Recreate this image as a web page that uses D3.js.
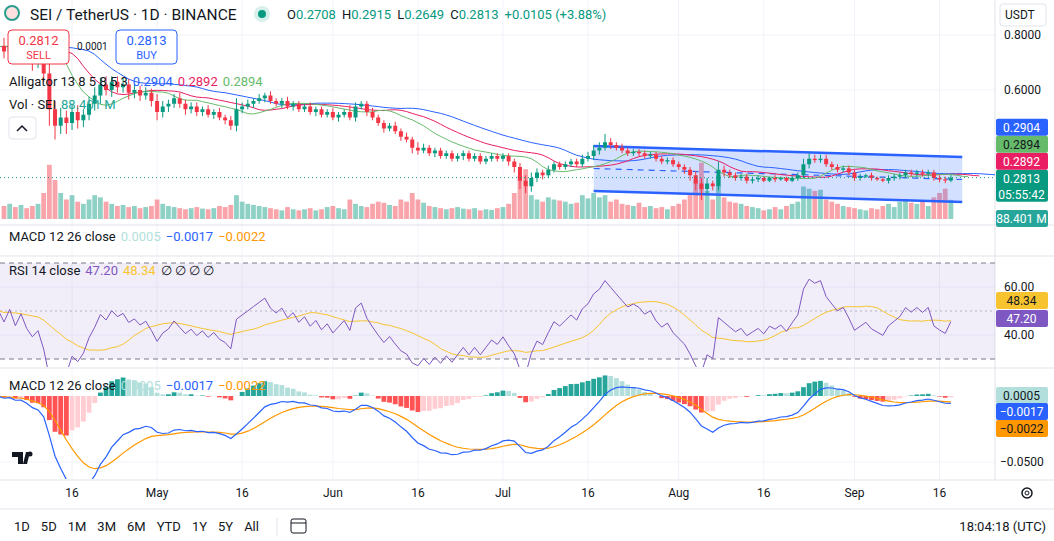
<!DOCTYPE html>
<html>
<head>
<meta charset="utf-8">
<script src="https://cdn.jsdelivr.net/npm/d3@7"></script>
<style>
body{margin:0;background:#fff;font-family:Roboto,"Liberation Sans",sans-serif;}
svg text{font-family:Roboto,"Liberation Sans",sans-serif;}
</style>
</head>
<body>
<svg id="chart" width="1054" height="541"></svg>
<script>
// closes before the visible range, only used to warm up the indicators
const warmCloses = [0.76,0.78,0.75,0.77,0.79,0.76,0.74,0.77,0.78,0.75,0.73,0.76,0.78,0.77,0.75,0.74,0.76,0.78,0.77,0.75,
  0.74,0.76,0.77,0.75,0.74,0.76,0.78,0.76,0.75,0.77,0.76,0.74,0.75,0.77,0.76,0.75,0.76,0.77,0.75,0.76];
const firstDay = new Date(2024, 3, 4);
const firstOpen = 0.76;
const closes = [
  // Apr 4-30
  0.74,0.76,0.73,0.75,0.72,0.70,0.71,0.66,0.53,0.47,0.50,0.48,0.52,0.49,0.51,0.55,0.58,0.62,0.60,0.63,0.61,0.62,0.59,0.60,0.58,0.59,0.56,
  // May
  0.52,0.54,0.55,0.57,0.55,0.53,0.54,0.52,0.53,0.51,0.52,0.50,0.49,0.47,0.53,0.54,0.55,0.56,0.57,0.58,0.56,0.55,0.56,0.54,0.55,0.53,0.54,0.52,0.53,0.51,0.52,
  // Jun
  0.50,0.51,0.52,0.50,0.54,0.55,0.52,0.50,0.48,0.46,0.47,0.45,0.43,0.42,0.39,0.38,0.39,0.37,0.38,0.36,0.37,0.35,0.36,0.37,0.35,0.36,0.34,0.35,0.36,0.35,
  // Jul
  0.36,0.34,0.32,0.27,0.25,0.28,0.30,0.29,0.31,0.33,0.32,0.33,0.34,0.33,0.35,0.36,0.38,0.39,0.41,0.40,0.39,0.38,0.37,0.375,0.37,0.36,0.365,0.35,0.34,0.345,0.33,
  // Aug
  0.32,0.31,0.29,0.26,0.24,0.26,0.25,0.31,0.30,0.29,0.28,0.285,0.27,0.275,0.28,0.27,0.28,0.275,0.28,0.27,0.28,0.29,0.33,0.35,0.345,0.35,0.33,0.32,0.31,0.315,0.30,
  // Sep 1-18
  0.28,0.285,0.29,0.28,0.275,0.27,0.28,0.285,0.29,0.30,0.295,0.30,0.295,0.30,0.28,0.275,0.2708,0.2813
];
// wick lengths above / below the body, in thousandths
const hiExt = [
  30,25,30,20,25,20,25,20,40,30,35,25,30,25,20,25,30,25,30,20,20,25,20,20,15,20,15,
  25,20,15,15,20,15,15,15,10,15,10,15,10,15,40,15,15,10,15,10,15,10,10,15,10,10,10,15,10,10,10,
  15,10,10,25,15,10,10,15,10,10,10,15,10,15,10,20,15,10,10,10,10,10,10,10,10,10,10,10,10,10,
  10,10,10,15,20,20,15,10,15,10,10,10,10,10,15,15,20,20,30,15,10,15,10,10,10,10,10,10,10,10,10,
  10,10,10,15,20,20,10,30,15,10,10,10,10,10,10,5,5,10,5,5,10,10,20,20,15,15,15,10,10,10,10,
  10,10,5,10,5,5,10,10,10,10,10,10,10,10,10,10,10,10.2
];
const loExt = [
  25,30,20,30,25,30,20,30,60,50,30,40,25,30,25,20,25,30,20,25,20,20,25,20,20,15,20,
  30,20,20,15,15,20,15,15,15,10,15,10,15,15,20,15,10,15,10,15,10,10,15,10,15,10,10,10,15,10,10,
  10,15,10,10,15,10,15,10,10,15,10,10,15,10,20,15,10,10,15,10,10,10,10,15,10,10,10,10,10,10,
  10,15,20,30,25,20,15,15,10,10,10,10,10,10,10,10,15,15,10,15,10,10,10,10,10,10,10,10,10,10,10,
  10,15,20,25,40,20,15,15,15,10,10,10,10,10,10,5,5,10,5,5,5,10,10,15,10,10,10,10,10,10,10,
  10,10,5,10,5,5,10,10,10,10,10,10,10,10,10,10,10,5.9
];
// volume, millions
const volumes = [
  60,70,55,65,50,60,70,120,250,180,120,90,110,80,70,90,110,100,80,70,60,65,55,60,50,55,60,
  90,70,60,55,50,45,50,55,48,45,50,60,55,65,110,80,70,65,60,55,50,45,40,55,45,40,45,50,40,45,55,
  60,50,45,90,70,60,55,70,80,75,65,60,90,80,120,90,75,60,55,50,45,50,55,48,45,50,40,45,42,50,
  55,70,120,200,230,110,90,80,100,90,85,80,70,75,110,95,120,100,110,80,90,70,65,60,75,55,60,50,55,45,60,
  70,90,110,180,260,130,90,200,100,80,75,70,60,55,50,40,45,55,45,60,70,80,150,140,130,135,90,80,70,60,55,
  50,45,40,50,45,60,70,55,80,90,75,70,85,60,100,120,140,88.401
];
const priceTicks = [0.6, 0.8];
const rsiTicks = [40, 60];
const macdTicks = [-0.05];
const xTicks = [[3,16,'16'],[4,1,'May'],[4,16,'16'],[5,1,'Jun'],[5,16,'16'],[6,1,'Jul'],[6,16,'16'],[7,1,'Aug'],[7,16,'16'],[8,1,'Sep'],[8,16,'16']];
// channel drawing: [month, day, price]
const channelTop = [[6,17,0.396],[8,20,0.356]];
const channelBot = [[6,17,0.233],[8,20,0.193]];
const periods = ['1D','5D','1M','3M','6M','YTD','1Y','5Y','All'];

const UP = '#089981', DOWN = '#F23645';
const svg = d3.select('#chart');
const W = 1054, axisX = 995;

// build candles
const candles = closes.map((c, i) => {
  const o = i === 0 ? firstOpen : closes[i - 1];
  return {date: d3.timeDay.offset(firstDay, i), o, c,
    h: Math.max(o, c) + hiExt[i] / 1000, l: Math.min(o, c) - loExt[i] / 1000, v: volumes[i]};
});
const n = candles.length;

const x = d3.scaleTime().domain([firstDay, d3.timeDay.offset(firstDay, 174)]).range([4, 4 + 174 * 5.67]);
const yP = d3.scaleLinear().domain([0.6, 0.8]).range([90, 35]);
const yV = d3.scaleLinear().domain([0, 300]).range([219, 154]);
const yR = d3.scaleLinear().domain([40, 60]).range([335, 287]);
const yM = d3.scaleLinear().domain([0, -0.05]).range([396, 462]);

// indicators
const allC = warmCloses.concat(closes);
const allHL2 = warmCloses.map(c => c).concat(candles.map(d => (d.h + d.l) / 2));
const W0 = warmCloses.length;
function ema(arr, len) { const k = 2 / (len + 1); let e = arr[0]; return arr.map(v => (e = v * k + e * (1 - k))); }
function smma(arr, len) { let s = arr[0]; return arr.map(v => (s = (s * (len - 1) + v) / len)); }
function sma(arr, len) { return arr.map((v, i) => d3.mean(arr.slice(Math.max(0, i - len + 1), i + 1))); }
const e12 = ema(allC, 12), e26 = ema(allC, 26);
const macd = allC.map((v, i) => e12[i] - e26[i]);
const sig = ema(macd, 9);
let ag = 0, al = 0;
const rsi = allC.map((v, i) => {
  if (i === 0) return 50;
  const ch = v - allC[i - 1];
  ag = (ag * 13 + Math.max(ch, 0)) / 14; al = (al * 13 + Math.max(-ch, 0)) / 14;
  return al === 0 ? 100 : 100 - 100 / (1 + ag / al);
});
const rsiMa = sma(rsi, 14);
const jaw = smma(allHL2, 13), teeth = smma(allHL2, 8), lips = smma(allHL2, 5);

const dAt = i => d3.timeDay.offset(firstDay, i - W0);

// clip paths
const defs = svg.append('defs');
function clip(id, y0, y1) { defs.append('clipPath').attr('id', id).append('rect').attr('x', 0).attr('y', y0).attr('width', axisX).attr('height', y1 - y0); }
clip('cMain', 0, 221); clip('cRsi', 257, 367); clip('cMacd', 369, 479);

// grid
const grid = svg.append('g').attr('stroke', '#f0f3fa');
const tickDates = xTicks.map(t => new Date(2024, t[0], t[1]));
tickDates.forEach(d => grid.append('line').attr('x1', x(d)).attr('x2', x(d)).attr('y1', 0).attr('y2', 480));
priceTicks.forEach(p => grid.append('line').attr('x1', 0).attr('x2', axisX).attr('y1', yP(p)).attr('y2', yP(p)));
rsiTicks.forEach(p => grid.append('line').attr('x1', 0).attr('x2', axisX).attr('y1', yR(p)).attr('y2', yR(p)));
macdTicks.forEach(p => grid.append('line').attr('x1', 0).attr('x2', axisX).attr('y1', yM(p)).attr('y2', yM(p)));

// pane separators
[225, 256, 368, 480].forEach(y => svg.append('line').attr('x1', 0).attr('x2', W).attr('y1', y).attr('y2', y).attr('stroke', '#e0e3eb'));
svg.append('line').attr('x1', axisX).attr('x2', axisX).attr('y1', 0).attr('y2', 480).attr('stroke', '#e0e3eb');

// main pane
const main = svg.append('g').attr('clip-path', 'url(#cMain)');
main.selectAll('rect.vol').data(candles).enter().append('rect')
  .attr('x', d => x(d.date) - 2.4).attr('width', 4.8)
  .attr('y', d => yV(d.v)).attr('height', d => yV(0) - yV(d.v))
  .attr('fill', d => d.c >= d.o ? 'rgba(8,153,129,0.45)' : 'rgba(242,54,69,0.45)');

// channel
const cd = p => new Date(2024, p[0], p[1]);
main.append('path')
  .attr('d', `M${x(cd(channelTop[0]))},${yP(channelTop[0][2])}L${x(cd(channelTop[1]))},${yP(channelTop[1][2])}L${x(cd(channelBot[1]))},${yP(channelBot[1][2])}L${x(cd(channelBot[0]))},${yP(channelBot[0][2])}Z`)
  .attr('fill', 'rgba(41,98,255,0.2)');
[channelTop, channelBot].forEach(ch => main.append('line')
  .attr('x1', x(cd(ch[0]))).attr('y1', yP(ch[0][2])).attr('x2', x(cd(ch[1]))).attr('y2', yP(ch[1][2]))
  .attr('stroke', '#2962FF').attr('stroke-width', 2.5));
main.append('line')
  .attr('x1', x(cd(channelTop[0]))).attr('y1', yP((channelTop[0][2] + channelBot[0][2]) / 2))
  .attr('x2', x(cd(channelTop[1]))).attr('y2', yP((channelTop[1][2] + channelBot[1][2]) / 2))
  .attr('stroke', '#2962FF').attr('stroke-width', 1.2).attr('stroke-dasharray', '6,5');

// alligator
function line(vals, offset, yS, start) {
  return d3.line().x((v, i) => x(dAt(i + start + offset))).y(v => yS(v))(vals.slice(start));
}
const aStart = W0 - 14;
main.append('path').attr('d', line(jaw, 8, yP, aStart)).attr('fill', 'none').attr('stroke', '#2962FF').attr('stroke-width', 1);
main.append('path').attr('d', line(teeth, 5, yP, aStart)).attr('fill', 'none').attr('stroke', '#E91E63').attr('stroke-width', 1);
main.append('path').attr('d', line(lips, 3, yP, aStart)).attr('fill', 'none').attr('stroke', '#66BB6A').attr('stroke-width', 1);

// candles
const cg = main.selectAll('g.c').data(candles).enter().append('g').attr('fill', d => d.c >= d.o ? UP : DOWN).attr('stroke', d => d.c >= d.o ? UP : DOWN);
cg.append('line').attr('x1', d => x(d.date)).attr('x2', d => x(d.date)).attr('y1', d => yP(d.h)).attr('y2', d => yP(d.l));
cg.append('rect').attr('x', d => x(d.date) - 2).attr('width', 4).attr('stroke', 'none')
  .attr('y', d => yP(Math.max(d.o, d.c))).attr('height', d => Math.max(1, Math.abs(yP(d.o) - yP(d.c))));

// last price line
const last = candles[n - 1];
svg.append('line').attr('x1', 0).attr('x2', axisX).attr('y1', yP(last.c)).attr('y2', yP(last.c))
  .attr('stroke', UP).attr('stroke-dasharray', '1,3');

// RSI pane
const rsiG = svg.append('g').attr('clip-path', 'url(#cRsi)');
rsiG.append('rect').attr('x', 0).attr('width', axisX).attr('y', yR(70)).attr('height', yR(30) - yR(70)).attr('fill', 'rgba(126,87,194,0.1)');
[70, 50, 30].forEach(v => rsiG.append('line').attr('x1', 0).attr('x2', axisX).attr('y1', yR(v)).attr('y2', yR(v))
  .attr('stroke', v === 50 ? 'rgba(120,123,134,0.5)' : '#787b86').attr('stroke-dasharray', v === 50 ? '2,3' : '5,4'));
rsiG.append('path').attr('d', line(rsiMa, 0, yR, W0 - 2)).attr('fill', 'none').attr('stroke', '#F7C42F').attr('stroke-width', 1);
rsiG.append('path').attr('d', line(rsi, 0, yR, W0 - 2)).attr('fill', 'none').attr('stroke', '#7E57C2').attr('stroke-width', 1);

// MACD pane
const mg = svg.append('g').attr('clip-path', 'url(#cMacd)');
const hist = macd.map((m, i) => m - sig[i]);
mg.selectAll('rect').data(d3.range(W0, allC.length)).enter().append('rect')
  .attr('x', i => x(dAt(i)) - 2.4).attr('width', 4.8)
  .attr('y', i => Math.min(yM(0), yM(hist[i]))).attr('height', i => Math.abs(yM(hist[i]) - yM(0)))
  .attr('fill', i => hist[i] >= 0 ? (hist[i] > hist[i - 1] ? '#26A69A' : '#B2DFDB') : (hist[i] < hist[i - 1] ? '#FF5252' : '#FFCDD2'));
mg.append('path').attr('d', line(sig, 0, yM, W0 - 2)).attr('fill', 'none').attr('stroke', '#FF9800').attr('stroke-width', 1.2);
mg.append('path').attr('d', line(macd, 0, yM, W0 - 2)).attr('fill', 'none').attr('stroke', '#2962FF').attr('stroke-width', 1.2);

// axis labels
const ax = svg.append('g').attr('font-size', 12).attr('fill', '#131722');
priceTicks.forEach(p => ax.append('text').attr('x', 1004).attr('y', yP(p) + 4).text(p.toFixed(4)));
rsiTicks.forEach(p => ax.append('text').attr('x', 1004).attr('y', yR(p) + 4).text(p.toFixed(2)));
macdTicks.forEach(p => ax.append('text').attr('x', 1000).attr('y', yM(p) + 4).text('−' + Math.abs(p).toFixed(4)));
xTicks.forEach((t, i) => ax.append('text').attr('x', x(tickDates[i])).attr('y', 497).attr('text-anchor', 'middle').text(t[2]));

function tag(y, h, bg, fg, lines) {
  svg.append('rect').attr('x', axisX + 1).attr('y', y).attr('width', 52).attr('height', h).attr('rx', 2).attr('fill', bg);
  lines.forEach((t, k) => svg.append('text').attr('x', 1021.5).attr('y', y + 13 + k * 16).attr('font-size', 12)
    .attr('text-anchor', 'middle').attr('fill', fg).text(t));
}
// stacked price tags, resolved from the bottom up
const nJ = jaw[jaw.length - 1], nT = teeth[teeth.length - 1], nL = lips[lips.length - 1];
const tags = [
  {y: yV(0) - 9, h: 17, bg: '#26A69A', fg: '#fff', t: ['88.401 M']},
  {y: yP(last.c) - 8, h: 32, bg: UP, fg: '#fff', t: [last.c.toFixed(4), '05:55:42']},
  {y: yP(nT) - 8, h: 17, bg: '#E91E63', fg: '#fff', t: ['0.2892']},
  {y: yP(nL) - 8, h: 17, bg: '#66BB6A', fg: '#131722', t: ['0.2894']},
  {y: yP(nJ) - 8, h: 17, bg: '#2962FF', fg: '#fff', t: ['0.2904']}
];
let stackTop = 1e9;
tags.forEach(g => { const yy = Math.min(g.y, stackTop - g.h); tag(yy, g.h, g.bg, g.fg, g.t); stackTop = yy; });
tag(292, 17, '#F7C42F', '#131722', ['48.34']);
tag(310, 17, '#7E57C2', '#fff', ['47.20']);
tag(387, 17, '#B2DFDB', '#131722', ['0.0005']);
tag(403, 17, '#2962FF', '#fff', ['−0.0017']);
tag(420, 17, '#FF9800', '#131722', ['−0.0022']);

// header
const hd = svg.append('g');
hd.append('circle').attr('cx', 12).attr('cy', 13).attr('r', 7).attr('fill', '#ffe0e0').attr('stroke', '#2a9d8f').attr('stroke-width', 2);
hd.append('text').attr('x', 30).attr('y', 20).attr('font-size', 15.5).attr('fill', '#131722').text('SEI / TetherUS · 1D · BINANCE');
hd.append('circle').attr('cx', 262).attr('cy', 14).attr('r', 8).attr('fill', '#d7f0ec');
hd.append('circle').attr('cx', 262).attr('cy', 14).attr('r', 4).attr('fill', UP);
const ohlc = hd.append('text').attr('x', 287).attr('y', 19).attr('font-size', 13);
[['O', '0.2708'], ['H', '0.2915'], ['L', '0.2649'], ['C', '0.2813'], ['', '+0.0105 (+3.88%)']].forEach((p, i) => {
  if (p[0]) ohlc.append('tspan').attr('fill', '#131722').attr('dx', i ? 6 : 0).text(p[0]);
  ohlc.append('tspan').attr('fill', UP).attr('dx', p[0] ? 0 : 6).text(p[1]);
});
svg.append('rect').attr('x', 1000).attr('y', 4).attr('width', 46).attr('height', 22).attr('rx', 3).attr('fill', '#fff').attr('stroke', '#e0e3eb');
svg.append('text').attr('x', 1005).attr('y', 19).attr('font-size', 12).attr('fill', '#131722').text('USDT');

// sell / buy
function box(x0, col, price, lab) {
  svg.append('rect').attr('x', x0).attr('y', 30).attr('width', 61).attr('height', 34).attr('rx', 4).attr('fill', '#fff').attr('stroke', col);
  svg.append('text').attr('x', x0 + 30.5).attr('y', 45).attr('text-anchor', 'middle').attr('font-size', 13).attr('fill', col).text(price);
  svg.append('text').attr('x', x0 + 30.5).attr('y', 59).attr('text-anchor', 'middle').attr('font-size', 11).attr('fill', col).text(lab);
}
box(8, '#F23645', '0.2812', 'SELL');
svg.append('text').attr('x', 77).attr('y', 50).attr('font-size', 10).attr('fill', '#131722').text('0.0001');
box(116, '#2962FF', '0.2813', 'BUY');

// legends
function legend(y, parts) {
  const t = svg.append('text').attr('x', 9).attr('y', y).attr('font-size', 13);
  parts.forEach((p, i) => t.append('tspan').attr('dx', i ? 5 : 0).attr('fill', p[1]).text(p[0]));
}
legend(86, [['Alligator 13 8 5 8 5 3', '#131722'], ['0.2904', '#2962FF'], ['0.2892', '#E91E63'], ['0.2894', '#66BB6A']]);
legend(109, [['Vol · SEI', '#131722'], ['88.401 M', '#26A69A']]);
svg.append('rect').attr('x', 9).attr('y', 117).attr('width', 27).attr('height', 22).attr('rx', 3).attr('fill', '#fff').attr('stroke', '#e0e3eb');
svg.append('path').attr('d', 'M17,131L22,126L27,131').attr('fill', 'none').attr('stroke', '#131722').attr('stroke-width', 1.5);
legend(241, [['MACD 12 26 close', '#131722'], ['0.0005', '#B2DFDB'], ['−0.0017', '#2962FF'], ['−0.0022', '#FF9800']]);
legend(275, [['RSI 14 close', '#131722'], ['47.20', '#7E57C2'], ['48.34', '#F7C42F'], ['∅ ∅ ∅ ∅', '#131722']]);
legend(390, [['MACD 12 26 close', '#131722'], ['0.0005', '#B2DFDB'], ['−0.0017', '#2962FF'], ['−0.0022', '#FF9800']]);

// logo
svg.append('path').attr('d', 'M12,452h11v12h-5v-7h-6z M26,452h4l-3,12h-4z').attr('fill', '#131722');
svg.append('circle').attr('cx', 30).attr('cy', 454).attr('r', 2.5).attr('fill', '#131722');

// bottom toolbar
svg.append('line').attr('x1', 0).attr('x2', W).attr('y1', 509).attr('y2', 509).attr('stroke', '#e0e3eb');
let px = 14;
periods.forEach(p => { const t = svg.append('text').attr('x', px).attr('y', 531).attr('font-size', 13).attr('fill', '#131722').text(p); px += t.node().getComputedTextLength() + 11; });
svg.append('line').attr('x1', 277).attr('x2', 277).attr('y1', 518).attr('y2', 536).attr('stroke', '#e0e3eb');
svg.append('rect').attr('x', 291).attr('y', 519).attr('width', 15).attr('height', 14).attr('rx', 2).attr('fill', 'none').attr('stroke', '#131722');
svg.append('line').attr('x1', 291).attr('x2', 306).attr('y1', 523).attr('y2', 523).attr('stroke', '#131722');
svg.append('text').attr('x', 1046).attr('y', 531).attr('text-anchor', 'end').attr('font-size', 13).attr('fill', '#131722').text('18:04:18 (UTC)');
svg.append('circle').attr('cx', 1027).attr('cy', 493).attr('r', 5).attr('fill', 'none').attr('stroke', '#131722').attr('stroke-width', 1.5);
svg.append('circle').attr('cx', 1027).attr('cy', 493).attr('r', 2).attr('fill', 'none').attr('stroke', '#131722');
</script>
</body>
</html>
